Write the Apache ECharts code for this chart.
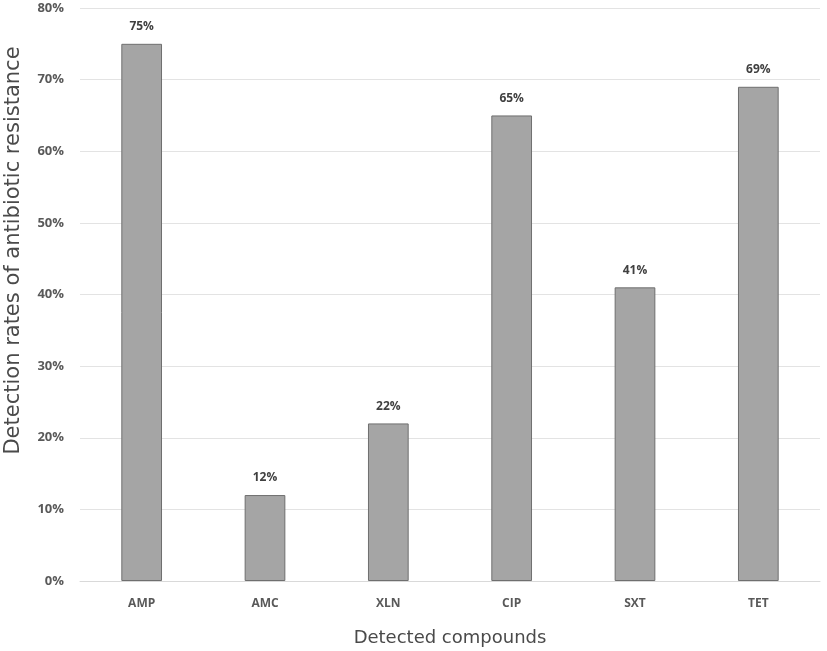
<!DOCTYPE html>
<html><head><meta charset="utf-8">
<script src="https://cdn.jsdelivr.net/npm/echarts@6/dist/echarts.min.js"></script>
<style>html,body{margin:0;padding:0;background:#fff}#c{width:827px;height:651px}</style>
</head><body><div id="c"></div>
<script>
const categories = ['AMP','AMC','XLN','CIP','SXT','TET'];
const rates = [75, 12, 22, 65, 41, 69];
const yTicks = [0,10,20,30,40,50,60,70,80];

const chart = echarts.init(document.getElementById('c'));
chart.setOption({
  animation: false,
  backgroundColor: '#fff',
  grid: {left: 80, right: 7, top: 8, bottom: 70, outerBoundsMode: 'none', containLabel: false},
  xAxis: {
    type: 'category', data: categories,
    name: 'Detected compounds', nameLocation: 'middle', nameGap: 48,
    nameTextStyle: {fontFamily: 'DejaVu Sans', fontSize: 18, color: '#4a4a4a'},
    axisLine: {show: true, lineStyle: {color: '#d9d9d9', width: 1}},
    axisTick: {show: false},
    axisLabel: {fontFamily: 'Open Sans', fontSize: 12, fontWeight: 'bold', color: '#595959', margin: 17}
  },
  yAxis: {
    type: 'value', min: 0, max: 80, interval: 10,
    name: 'Detection rates of antibiotic resistance', nameLocation: 'middle', nameGap: 56,
    nameTextStyle: {fontFamily: 'DejaVu Sans', fontSize: 21, color: '#4a4a4a', padding: [0, 0, 0, 88]},
    axisLine: {show: false}, axisTick: {show: false},
    axisLabel: {fontFamily: 'Open Sans', fontSize: 13, fontWeight: 'bold', color: '#595959', margin: 16,
      formatter: v => yTicks.includes(v) ? v + '%' : ''},
    splitLine: {lineStyle: {color: '#e3e3e3', width: 1}}
  },
  series: [{
    type: 'bar', data: rates, barWidth: '33%',
    itemStyle: {color: '#a5a5a5', borderColor: '#6f6f6f', borderWidth: 1},
    label: {show: true, position: 'top', distance: 11, formatter: '{c}%',
      fontFamily: 'Open Sans', fontSize: 12, fontWeight: 'bold', color: '#404040'}
  }]
});
</script></body></html>
